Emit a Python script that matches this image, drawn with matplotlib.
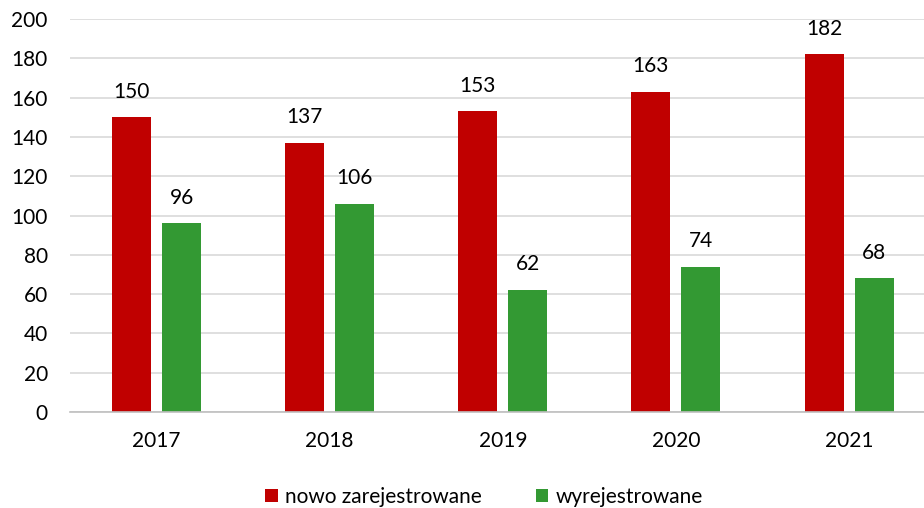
import matplotlib
matplotlib.use("Agg")
import matplotlib.pyplot as plt
import numpy as np

years = ["2017", "2018", "2019", "2020", "2021"]
nowo = [150, 137, 153, 163, 182]
wyrej = [96, 106, 62, 74, 68]
series_names = ["nowo zarejestrowane", "wyrejestrowane"]
colors = ["#C00000", "#339933"]

plt.rcParams['font.family'] = ['Lato', 'DejaVu Sans']

fig = plt.figure(figsize=(9.24, 5.08), dpi=100)
ax = fig.add_axes([70/924, 1-412/508, (935.6-70)/924, (412-19)/508])

x = np.arange(len(years))
w = 0.225
off = 0.1445
b1 = ax.bar(x - off, nowo, w, color=colors[0], label=series_names[0], zorder=3)
b2 = ax.bar(x + off, wyrej, w, color=colors[1], label=series_names[1], zorder=3)

for bars, vals in ((b1, nowo), (b2, wyrej)):
    for r, v in zip(bars, vals):
        ax.text(r.get_x() + r.get_width()/2, v + 8, str(v), ha='center', va='bottom',
                fontsize=15, color='#000000')

ax.set_xlim(-0.5, len(years) - 0.5)
ax.set_ylim(0, 200)
ax.set_yticks(range(0, 201, 20))
ax.set_xticks(x)
ax.set_xticklabels(years)
ax.tick_params(axis='both', length=0, labelsize=15, colors='#000000')
ax.tick_params(axis='y', pad=16)
ax.tick_params(axis='x', pad=14)
ax.grid(axis='y', color='#D9D9D9', linewidth=1.2, zorder=0)
for s in ['top', 'right', 'left']:
    ax.spines[s].set_visible(False)
ax.spines['bottom'].set_color('#BFBFBF')
ax.spines['bottom'].set_linewidth(1.2)
ax.spines['bottom'].set_zorder(4)

fig.legend(handles=[b1, b2], labels=series_names, loc='center', bbox_to_anchor=(484/924, 1-497/508),
           ncol=2, frameon=False, fontsize=15, handlelength=0.6, handleheight=0.6,
           handletextpad=0.35, columnspacing=2.6)

fig.savefig("out.png", dpi=100)
